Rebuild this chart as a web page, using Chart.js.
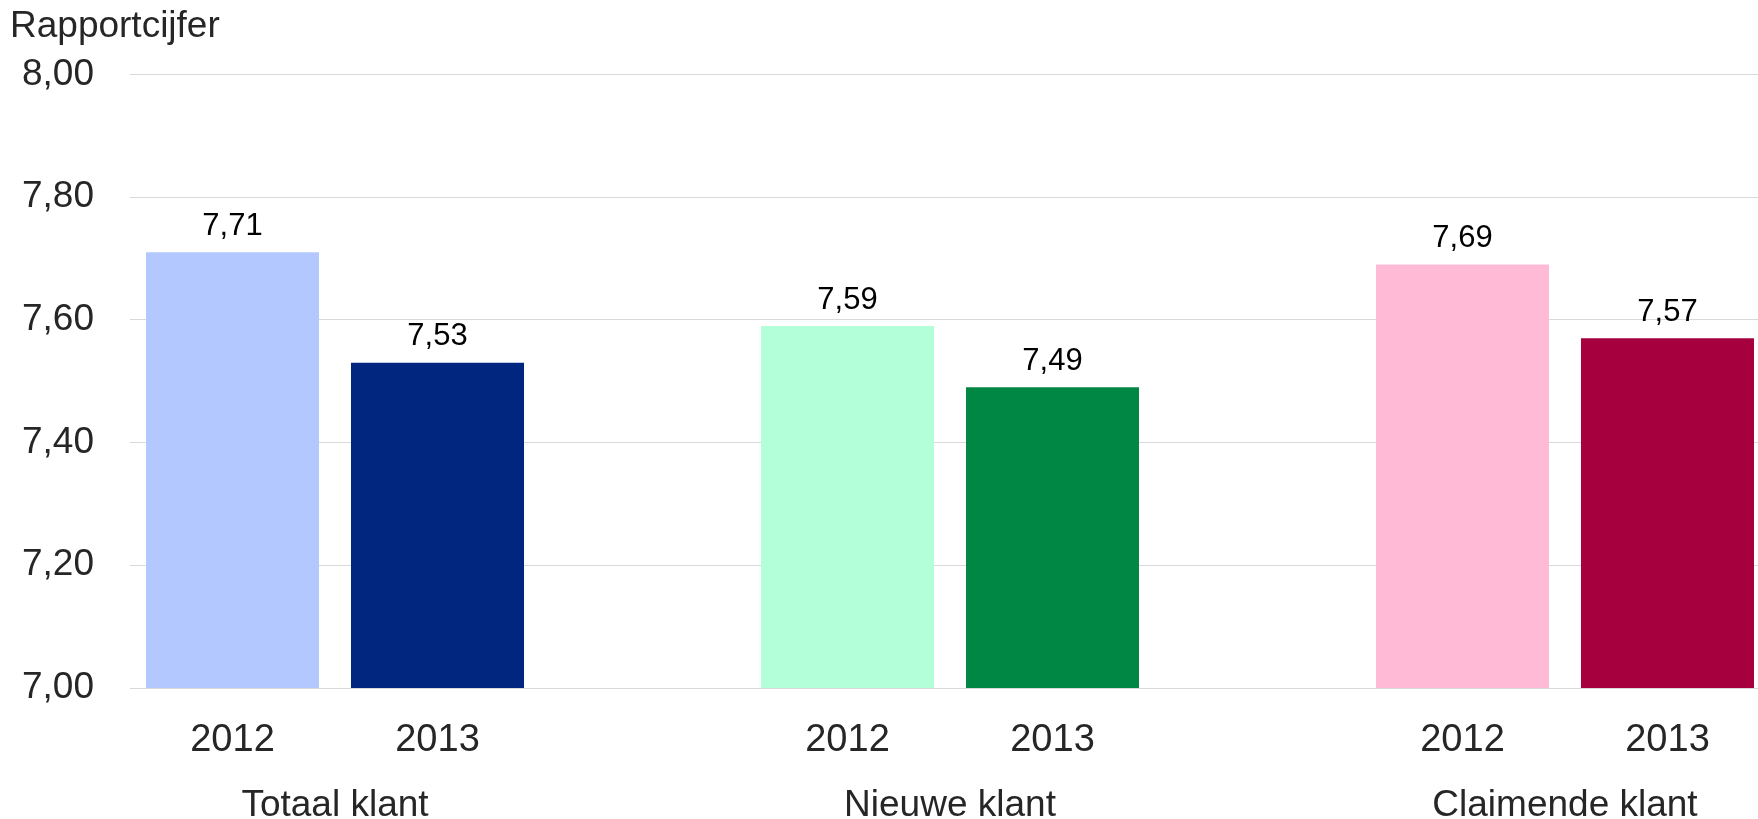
<!DOCTYPE html>
<html>
<head>
<meta charset="utf-8">
<script src="https://cdn.jsdelivr.net/npm/chart.js@4/dist/chart.umd.min.js"></script>
<style>
    html, body { margin: 0; padding: 0; overflow: hidden; background: #fff; }
    #frame { width: 1758px; height: 819px; overflow: hidden; }
    #wrap { position: relative; width: 1770px; height: 819px; }
</style>
</head>
<body>
<div id="frame"><div id="wrap"><canvas id="chart"></canvas></div></div>
<script>
// Chart data
const groups = ['Totaal klant', 'Nieuwe klant', 'Claimende klant'];
const years = ['2012', '2013'];
const values2012 = [7.71, 7.59, 7.69];
const values2013 = [7.53, 7.49, 7.57];
const yTicks = [7.0, 7.2, 7.4, 7.6, 7.8, 8.0];
const lightColors = ['#b3c8ff', '#b3ffd9', '#ffbbd5'];
const darkColors = ['#00267f', '#008744', '#a6003f'];

const FONT = '"Liberation Sans", Arial, sans-serif';

function fmt(v) {
    return v.toFixed(2).replace('.', ',');
}

// Build flat category list: 2012, 2013, (gap), 2012, 2013, (gap), ...
const labels = [];
const values = [];
const colors = [];
const groupTicks = [];
groups.forEach((g, i) => {
    if (i > 0) {
        labels.push('');
        values.push(null);
        colors.push('#ffffff');
    }
    groupTicks.push(labels.length + 0.5);
    labels.push(years[0]);
    values.push(values2012[i]);
    colors.push(lightColors[i]);
    labels.push(years[1]);
    values.push(values2013[i]);
    colors.push(darkColors[i]);
});

// Value labels above the bars
const valueLabels = {
    id: 'valueLabels',
    afterDatasetsDraw(chart) {
        const ctx = chart.ctx;
        const meta = chart.getDatasetMeta(0);
        ctx.save();
        ctx.font = '31px ' + FONT;
        ctx.fillStyle = '#000000';
        ctx.textAlign = 'center';
        ctx.textBaseline = 'middle';
        meta.data.forEach((bar, i) => {
            if (values[i] == null) return;
            ctx.fillText(fmt(values[i]), bar.x, bar.y - 26);
        });
        ctx.restore();
    }
};

new Chart(document.getElementById('chart'), {
    type: 'bar',
    data: {
        labels: labels,
        datasets: [{
            data: values,
            backgroundColor: colors,
            borderWidth: 0,
            categoryPercentage: 1,
            barPercentage: 0.844
        }]
    },
    options: {
        responsive: true,
        maintainAspectRatio: false,
        animation: false,
        layout: { padding: { left: 10, right: 0, top: 0, bottom: 0 } },
        plugins: {
            legend: { display: false },
            tooltip: { enabled: false },
            title: {
                display: true,
                text: 'Rapportcijfer',
                align: 'start',
                color: '#262626',
                font: { family: FONT, size: 37, weight: 'normal' },
                padding: { top: 5, bottom: 25 }
            }
        },
        scales: {
            x: {
                type: 'category',
                weight: 0,
                grid: { display: false },
                border: { display: false },
                ticks: {
                    color: '#262626',
                    font: { family: FONT, size: 38 },
                    padding: 22,
                    maxRotation: 0,
                    autoSkip: false
                },
                afterFit(scale) { scale.height = 88; }
            },
            groups: {
                type: 'linear',
                position: 'bottom',
                weight: 1,
                offset: false,
                min: -0.5,
                max: labels.length - 0.5,
                grid: { display: false, drawTicks: false, offset: false },
                border: { display: false },
                afterBuildTicks(scale) {
                    scale.ticks = groupTicks.map(v => ({ value: v }));
                },
                ticks: {
                    color: '#262626',
                    font: { family: FONT, size: 37 },
                    padding: 8,
                    maxRotation: 0,
                    autoSkip: false,
                    callback: (v) => groups[groupTicks.indexOf(v)]
                },
                afterFit(scale) { scale.height = 43; }
            },
            y: {
                min: yTicks[0],
                max: yTicks[yTicks.length - 1],
                grid: { color: '#d9d9d9', lineWidth: 1, drawTicks: false },
                border: { display: false },
                afterBuildTicks(scale) {
                    scale.ticks = yTicks.map(v => ({ value: v }));
                },
                ticks: {
                    color: '#262626',
                    font: { family: FONT, size: 37 },
                    padding: 36,
                    callback: (v) => fmt(v)
                },
                afterFit(scale) { scale.width = 120; }
            }
        }
    },
    plugins: [valueLabels]
});
</script>
</body>
</html>
